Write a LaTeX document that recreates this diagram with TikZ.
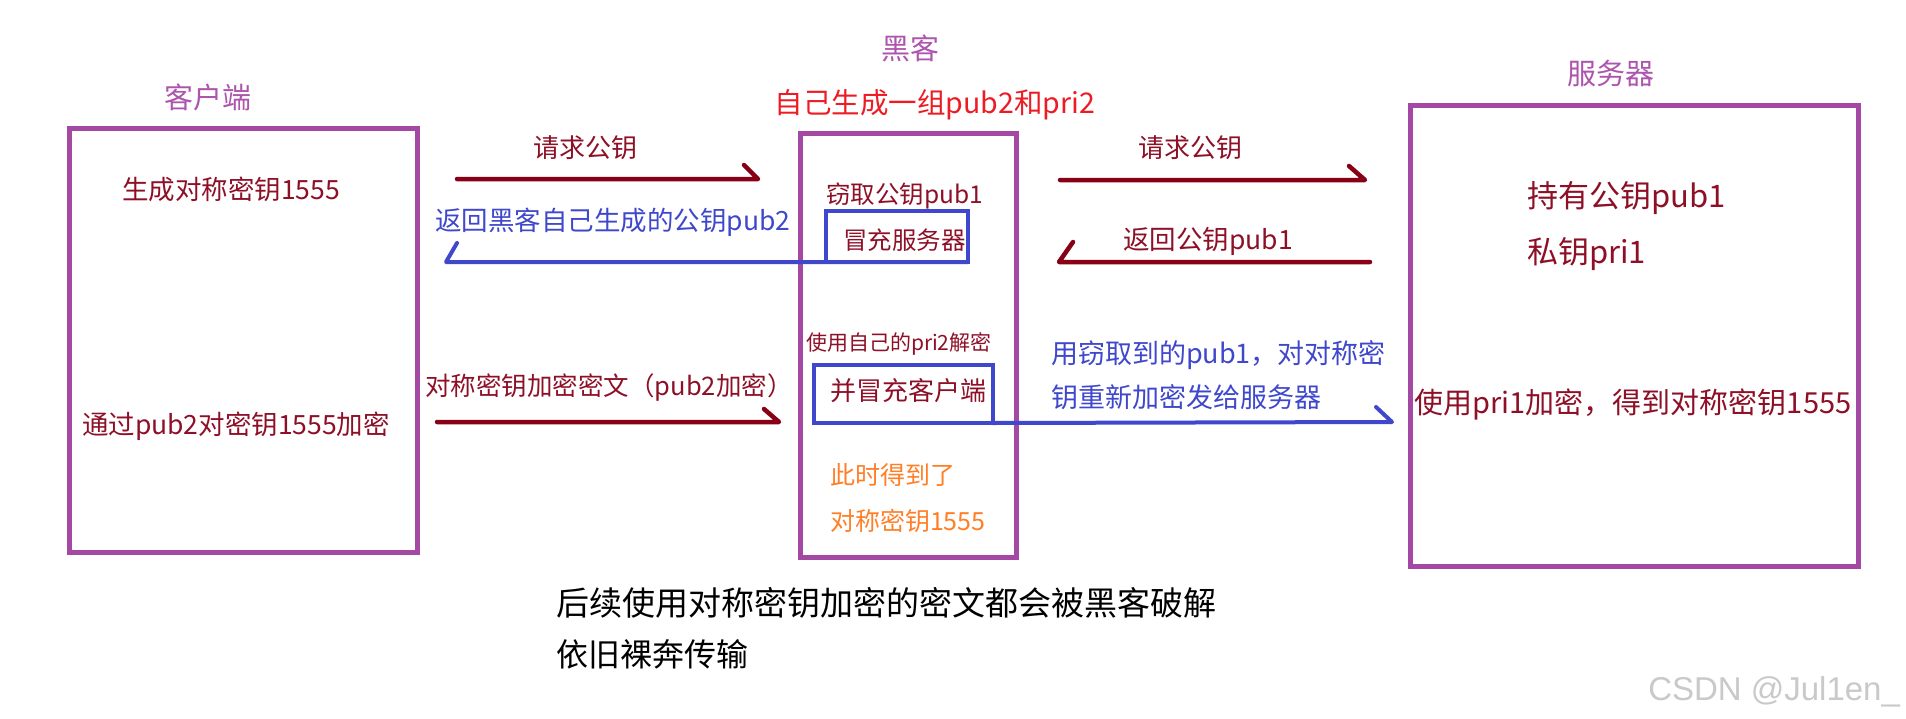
\documentclass[tikz,border=0pt]{standalone}
\usepackage{fontspec}
\setmainfont{Noto Sans CJK SC}
\newfontfamily\wmfont{Liberation Sans}
\definecolor{boxpurple}{HTML}{A349A4}
\definecolor{txtpurple}{HTML}{AD55AE}
\definecolor{dred}{HTML}{880015}
\definecolor{tred}{HTML}{8E1027}
\definecolor{pblue}{HTML}{3F48CC}
\definecolor{porange}{HTML}{FF7F27}
\definecolor{pred}{HTML}{ED1C24}
\definecolor{wmgray}{HTML}{C9C9C9}
\begin{document}
\begin{tikzpicture}[x=1pt,y=-1pt,
  pbox/.style={draw=boxpurple, line width=5pt, inner sep=0pt, outer sep=0pt},
  bbox/.style={draw=pblue, line width=4pt, inner sep=0pt, outer sep=0pt},
  redarr/.style={draw=dred, line width=4.5pt, line cap=round, line join=round},
  bluearr/.style={draw=pblue, line width=4pt, line cap=round, line join=round},
  lbl/.style={inner sep=0pt, outer sep=0pt},
  fsz/.style={font=\fontsize{#1pt}{#1pt}\selectfont}]
\useasboundingbox[fill=white] (0,0) rectangle (1906,718);

% boxes
\node[pbox, minimum width=348pt, minimum height=424pt] (client) at (243,340) {};
\node[pbox, minimum width=216pt, minimum height=424pt] (hacker) at (908,345) {};
\node[pbox, minimum width=448pt, minimum height=461pt] (server) at (1634,335.5) {};
\node[bbox, minimum width=142pt, minimum height=51pt] (fakeserver) at (897,236.5) {};
\node[bbox, minimum width=179pt, minimum height=58pt] (fakeclient) at (903.5,394) {};

% titles
\node[lbl, fsz=29, text=txtpurple, anchor=base] (tclient) at (208,108) {客户端};
\node[lbl, fsz=29, text=txtpurple, anchor=base] (thacker) at (910,59) {黑客};
\node[lbl, fsz=28.5, text=pred, anchor=base] (tgen) at (935,113) {自己生成一组pub2和pri2};
\node[lbl, fsz=29, text=txtpurple, anchor=base] (tserver) at (1611,84) {服务器};

% client texts
\node[lbl, fsz=26.5, text=tred, anchor=base] (c1) at (231,199) {生成对称密钥1555};
\node[lbl, fsz=26.5, text=tred, anchor=base] (c2) at (236,434) {通过pub2对密钥1555加密};

% hacker texts
\node[lbl, fsz=24.5, text=tred, anchor=base west] (h1) at (826,203) {窃取公钥pub1};
\node[lbl, fsz=24.5, text=tred, anchor=base west] (h2) at (843,249) {冒充服务器};
\node[lbl, fsz=21, text=tred, anchor=base west] (h3) at (806,350) {使用自己的pri2解密};
\node[lbl, fsz=26, text=tred, anchor=base west] (h4) at (830,400) {并冒充客户端};
\node[lbl, fsz=25, text=porange, anchor=base west] (h5) at (830,484) {此时得到了};
\node[lbl, fsz=25, text=porange, anchor=base west] (h6) at (830,530) {对称密钥1555};

% server texts
\node[lbl, fsz=31, text=tred, anchor=base west] (s1) at (1527,207) {持有公钥pub1};
\node[lbl, fsz=31, text=tred, anchor=base west] (s2) at (1527,263) {私钥pri1};
\node[lbl, fsz=29, text=tred, anchor=base] (s3) at (1633,413) {使用pri1加密，得到对称密钥1555};

% arrow labels
\node[lbl, fsz=26, text=tred, anchor=base] (l1) at (585,157) {请求公钥};
\node[lbl, fsz=26.5, text=pblue, anchor=base] (l2) at (613,230) {返回黑客自己生成的公钥pub2};
\node[lbl, fsz=25.5, text=tred, anchor=base] (l3) at (609,395) {对称密钥加密密文（pub2加密）};
\node[lbl, fsz=26, text=tred, anchor=base] (l4) at (1190,157) {请求公钥};
\node[lbl, fsz=26.5, text=tred, anchor=base] (l5) at (1208,249) {返回公钥pub1};
\node[lbl, fsz=27, text=pblue, anchor=base west] (l6) at (1051,363) {用窃取到的pub1，对对称密};
\node[lbl, fsz=27, text=pblue, anchor=base west] (l7) at (1051,407) {钥重新加密发给服务器};

% bottom notes
\node[lbl, fsz=33, text=black, anchor=base west] (n1) at (556,615) {后续使用对称密钥加密的密文都会被黑客破解};
\node[lbl, fsz=32, text=black, anchor=base west] (n2) at (556,666) {依旧裸奔传输};
\node[lbl, font=\wmfont\fontsize{33pt}{33pt}\selectfont, text=wmgray, anchor=base east] (wm) at (1900,700) {CSDN @Jul1en\_};

% arrows
\coordinate (a1s) at (457,179);  \coordinate (a1e) at (758,179);
\coordinate (a2s) at (1060,180); \coordinate (a2e) at (1365,180);
\coordinate (a3s) at (1370,262); \coordinate (a3e) at (1059,262);
\coordinate (a4s) at (437,422);  \coordinate (a4e) at (779,422);
\coordinate (b1e) at (446,262);
\coordinate (b2e) at (1392,422);

\draw[redarr] (a1s) -- (a1e) -- ++(-14,-14);
\draw[redarr] (a2s) -- (a2e) -- ++(-16,-14);
\draw[redarr] (a3s) -- (a3e) -- ++(14,-20);
\draw[redarr] (a4s) -- (a4e) -- ++(-15,-13);
\draw[bluearr] (fakeserver.south east) -- (b1e) -- ++(11,-19);
\draw[bluearr] (fakeclient.south east) -- (b2e) -- ++(-16,-15);
\end{tikzpicture}
\end{document}
